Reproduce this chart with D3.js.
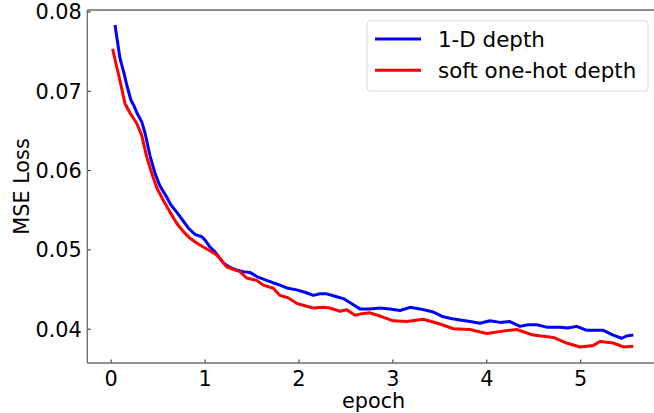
<!DOCTYPE html>
<html>
<head>
<meta charset="utf-8">
<script src="https://cdn.jsdelivr.net/npm/d3@7"></script>
<style>
  html, body { margin: 0; padding: 0; background: #fff; }
  svg { display: block; }
  text { font-family: "DejaVu Sans", sans-serif; }
</style>
</head>
<body>
<svg id="chart" width="654" height="413"></svg>
<script>
// ---- data ----
const seriesNames = ["1-D depth", "soft one-hot depth"];
const seriesColors = ["#0000ff", "#ff0000"];

const blueEpoch = [0.046,0.099,0.142,0.174,0.216,0.248,0.280,0.330,0.365,0.419,0.472,0.525,0.596,0.642,0.703,0.759,0.826,0.898,0.969,1.004,1.058,1.111,1.199,1.260,1.342,1.409,1.483,1.569,1.661,1.728,1.803,1.888,1.981,2.069,2.158,2.229,2.300,2.389,2.477,2.559,2.655,2.761,2.868,2.974,3.081,3.187,3.294,3.436,3.542,3.624,3.720,3.826,3.933,4.039,4.146,4.252,4.359,4.444,4.537,4.643,4.785,4.870,4.963,5.069,5.158,5.246,5.352,5.442,5.498,5.566];
const blueLoss = [0.0783,0.0741,0.0722,0.0706,0.0688,0.0681,0.0672,0.0661,0.0647,0.0618,0.0596,0.0580,0.0566,0.0556,0.0547,0.0538,0.0527,0.0519,0.0516,0.0512,0.0503,0.0497,0.0483,0.0478,0.0474,0.0472,0.0471,0.0465,0.0461,0.0458,0.0455,0.0451,0.0449,0.0446,0.0442,0.0444,0.0444,0.0441,0.0438,0.0432,0.0425,0.0425,0.0426,0.0425,0.0423,0.0427,0.0425,0.0421,0.0415,0.0413,0.0411,0.0409,0.0407,0.0410,0.0408,0.0409,0.0403,0.0405,0.0405,0.0402,0.0402,0.0401,0.0403,0.0398,0.0398,0.0398,0.0392,0.0388,0.0391,0.0392];

const redEpoch = [0.021,0.064,0.081,0.106,0.152,0.206,0.277,0.330,0.383,0.437,0.493,0.560,0.632,0.703,0.770,0.845,0.916,0.986,1.047,1.129,1.175,1.235,1.302,1.377,1.448,1.555,1.625,1.732,1.803,1.888,1.981,2.069,2.158,2.264,2.335,2.442,2.513,2.602,2.676,2.761,2.868,3.010,3.152,3.329,3.507,3.649,3.826,4.004,4.181,4.324,4.500,4.714,4.856,4.998,5.140,5.211,5.352,5.459,5.566];
const redLoss = [0.0753,0.0730,0.0722,0.0709,0.0684,0.0672,0.0659,0.0644,0.0617,0.0596,0.0577,0.0562,0.0547,0.0533,0.0523,0.0514,0.0508,0.0503,0.0499,0.0493,0.0487,0.0478,0.0475,0.0472,0.0464,0.0461,0.0455,0.0451,0.0442,0.0439,0.0432,0.0429,0.0426,0.0427,0.0426,0.0422,0.0424,0.0417,0.0419,0.0420,0.0416,0.0410,0.0409,0.0412,0.0406,0.0400,0.0399,0.0394,0.0397,0.0399,0.0392,0.0389,0.0382,0.0377,0.0379,0.0384,0.0382,0.0377,0.0378];

const xTicks = [0, 1, 2, 3, 4, 5];
const yTicks = [0.04, 0.05, 0.06, 0.07, 0.08];
const xLabel = "epoch";
const yLabel = "MSE Loss";

// ---- layout ----
const svg = d3.select("#chart");
const pLeft = 87.3, pRight = 660, pTop = 10, pBottom = 363;
const FS = 20.8;
const LFS = 21.4;

const x = d3.scaleLinear().domain([-0.249, 5.85]).range([pLeft, pRight]);
const y = d3.scaleLinear().domain([0.03568, 0.08018]).range([pBottom, pTop]);

const series = [
  {name: seriesNames[0], color: seriesColors[0], pts: blueEpoch.map((e, i) => [e, blueLoss[i]])},
  {name: seriesNames[1], color: seriesColors[1], pts: redEpoch.map((e, i) => [e, redLoss[i]])}
];

// lines
const line = d3.line().x(d => x(d[0])).y(d => y(d[1])).curve(d3.curveLinear);
series.forEach(s => {
  svg.append("path").attr("d", line(s.pts))
    .attr("fill", "none").attr("stroke", s.color)
    .attr("stroke-width", 3).attr("stroke-linejoin", "round").attr("stroke-linecap", "butt");
});

// axes (ticks inward)
const xAxis = d3.axisBottom(x).tickValues(xTicks).tickFormat(d3.format("d"))
  .tickSizeInner(-3.5).tickSizeOuter(0).tickPadding(9);
const gx = svg.append("g").attr("transform", `translate(0,${pBottom})`).call(xAxis);
const yAxis = d3.axisLeft(y).tickValues(yTicks).tickFormat(d3.format(".2f"))
  .tickSizeInner(-3.5).tickSizeOuter(0).tickPadding(5);
const gy = svg.append("g").attr("transform", `translate(${pLeft},0)`).call(yAxis);

[gx, gy].forEach(g => {
  g.select(".domain").remove();
  g.selectAll(".tick line").attr("stroke", "#222").attr("stroke-width", 1);
  g.selectAll(".tick text").attr("fill", "#000").style("font-size", FS + "px")
    .style("font-family", "'DejaVu Sans', sans-serif");
});
gx.selectAll(".tick text").attr("dy", null).attr("y", 22.5);
gy.selectAll(".tick text").attr("x", -5.5).attr("dy", "0.36em");

// spines
const spineColor = "#6b6b6b";
const spines = [
  [pLeft, pTop, pLeft, pBottom],
  [pLeft, pBottom, pRight, pBottom],
  [pLeft, pTop, pRight, pTop],
  [pRight, pTop, pRight, pBottom]
];
spines.forEach(s => {
  svg.append("line").attr("x1", s[0]).attr("y1", s[1]).attr("x2", s[2]).attr("y2", s[3])
    .attr("stroke", spineColor).attr("stroke-width", 1.3);
});

// axis labels
svg.append("text").attr("x", (pLeft + pRight) / 2).attr("y", 407.5)
  .attr("text-anchor", "middle").style("font-size", FS + "px").text(xLabel);
svg.append("text").attr("transform", `translate(29,${(pTop + pBottom) / 2}) rotate(-90)`)
  .attr("text-anchor", "middle").style("font-size", FS + "px").text(yLabel);

// legend
const lg = svg.append("g");
lg.append("rect").attr("x", 367).attr("y", 20.7).attr("width", 281).attr("height", 70.3)
  .attr("rx", 3).attr("fill", "#fff").attr("fill-opacity", 0.8)
  .attr("stroke", "#d9d9d9").attr("stroke-width", 1);
const legendY = [39, 70.3];
series.forEach((s, i) => {
  lg.append("line").attr("x1", 375).attr("x2", 421).attr("y1", legendY[i]).attr("y2", legendY[i])
    .attr("stroke", s.color).attr("stroke-width", 3);
  lg.append("text").attr("x", 438).attr("y", legendY[i] + 7.6)
    .style("font-size", LFS + "px").attr("fill", "#000").text(s.name);
});
</script>
</body>
</html>
